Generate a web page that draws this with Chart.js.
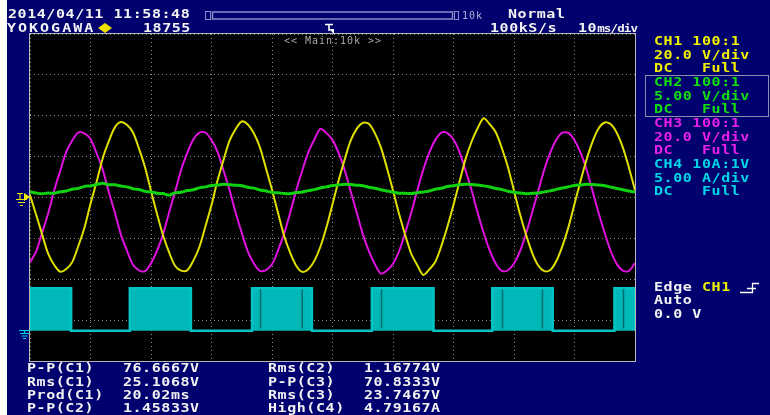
<!DOCTYPE html>
<html>
<head>
<meta charset="utf-8">
<script src="https://cdn.jsdelivr.net/npm/chart.js@4.4.1/dist/chart.umd.min.js"></script>
<style>
  html, body { margin: 0; padding: 0; background: #fff; }
  #scope { position: absolute; left: 0; top: 0; width: 770px; height: 415px; background: #00006e; overflow: hidden; }
  #margin { position: absolute; left: 0; top: 0; width: 7px; height: 415px; background: #fff; }
  #plot { position: absolute; left: 0; top: 0; }
  #icons { position: absolute; left: 0; top: 0; }
  .t { position: absolute; font: bold 12px "DejaVu Sans Mono", monospace; line-height: 12px;
       letter-spacing: .45px; transform: scaleX(1.25); transform-origin: 0 0; white-space: pre; color: #f2f2f2; }
  .s { position: absolute; font: 10px "DejaVu Sans Mono", monospace; line-height: 10px;
       letter-spacing: .98px; white-space: pre; color: #a8a8a8; }
  .y { color: #f0f000; } .g { color: #10e010; } .m { color: #e820e8; } .c { color: #00d8e8; }
  #ch2box { position: absolute; left: 645px; top: 75px; width: 122px; height: 40px; border: 1px solid #8c8cb0; }
</style>
</head>
<body>
<div id="scope">
  <div id="margin"></div>
  <canvas id="plot" width="770" height="415"></canvas>
  <svg id="icons" width="770" height="415" xmlns="http://www.w3.org/2000/svg">
    <!-- zoom bar -->
    <rect x="205.5" y="11.5" width="5" height="8" fill="none" stroke="#8a8ac8" stroke-width="1"/>
    <rect x="212.5" y="12" width="240" height="7" fill="none" stroke="#8a8ac8" stroke-width="1.5"/>
    <rect x="454.5" y="11.5" width="4" height="8" fill="none" stroke="#8a8ac8" stroke-width="1"/>
    <!-- logo diamond -->
    <polygon points="98,28 105,23 112,28 105,33" fill="#f0e000"/>
    <!-- trigger position -->
    <path d="M325,24.5 H333 M329,24 V31" stroke="#fff" stroke-width="1.6" fill="none"/>
    <polygon points="329,29 334,29 334,34" fill="#fff"/>
    <!-- CH1 ground / trigger level marker -->
    <path d="M17,193.5 H23 M20,193 V199 M16,199.5 H27 M18,202.5 H25 M20,205.5 H23" stroke="#e6e600" stroke-width="1.2" fill="none"/>
    <polygon points="24,193 30,197 24,201" fill="#f0f000"/>
    <!-- CH4 ground marker -->
    <path d="M19,330.5 H30 M24.5,330 V333.5 M20,333.5 H29 M21.5,336 H27.5 M23,338.5 H26" stroke="#00d0d8" stroke-width="1.2" fill="none"/>
    <!-- trigger edge symbol -->
    <path d="M740,292.5 H752.5 V283.5 H759 M747,288.5 H756" stroke="#fff" stroke-width="1.3" fill="none"/>
  </svg>

  <div class="t" style="left:8px;top:7.5px">2014/04/11 11:58:48</div>
  <div class="t" style="left:508px;top:7.5px">Normal</div>
  <div class="t" style="left:7px;top:21.5px;letter-spacing:1.6px">YOKOGAWA</div>
  <div class="t" style="left:143px;top:21.5px">18755</div>
  <div class="t" style="left:490px;top:21.5px">100kS/s</div>
  <div class="t" style="left:578px;top:21.5px">10<span style="font-size:10px;letter-spacing:-.7px">ms/div</span></div>
  <div class="s" style="left:462px;top:11px;color:#b0b0d8">10k</div>
  <div class="s" style="left:284px;top:36px">&lt;&lt; Main:10k &gt;&gt;</div>

  <div id="ch2box"></div>
  <div class="t" style="left:654px;top:35.1px;line-height:13.65px"><span class="y">CH1 100:1
20.0 V/div
DC   Full</span>
<span class="g">CH2 100:1
5.00 V/div
DC   Full</span>
<span class="m">CH3 100:1
20.0 V/div
DC   Full</span>
<span class="c">CH4 10A:1V
5.00 A/div
DC   Full</span></div>

  <div class="t" style="left:654px;top:280.9px;line-height:13.5px">Edge <span class="y">CH1</span>
Auto
0.0 V</div>

  <div class="t" style="left:26.7px;top:362.2px;line-height:13.33px">P-P(C1)   76.6667V
Rms(C1)   25.1068V
Prod(C1)  20.02ms
P-P(C2)   1.45833V</div>
  <div class="t" style="left:268.3px;top:362.2px;line-height:13.33px">Rms(C2)   1.16774V
P-P(C3)   70.8333V
Rms(C3)   23.7467V
High(C4)  4.79167A</div>
</div>

<script>
// Acquisition time base: one sample per millisecond across 10 divisions of 10 ms
const timeMs = [
  0,1,2,3,4,5,6,7,8,9,10,11,12,13,14,15,16,17,18,19,
  20,21,22,23,24,25,26,27,28,29,30,31,32,33,34,35,36,37,38,39,
  40,41,42,43,44,45,46,47,48,49,50,51,52,53,54,55,56,57,58,59,
  60,61,62,63,64,65,66,67,68,69,70,71,72,73,74,75,76,77,78,79,
  80,81,82,83,84,85,86,87,88,89,90,91,92,93,94,95,96,97,98,99,100
];

// CH1 voltage (V), 20 V/div
const ch1Volts = [
  1.2,-8.3,-18.0,-27.5,-33.0,-36.3,-35.0,-31.5,-23.6,-14.8,
  -3.1,7.6,19.0,27.3,34.2,36.9,35.6,31.9,24.0,14.9,
  3.2,-8.1,-18.6,-26.9,-33.5,-35.8,-35.6,-30.9,-24.2,-14.1,
  -3.7,8.3,18.4,27.9,33.5,37.2,35.7,31.4,24.6,14.3,
  3.8,-7.6,-18.7,-27.0,-33.4,-36.4,-35.1,-31.0,-24.1,-14.6,
  -3.3,8.2,18.5,27.8,33.6,36.5,36.1,31.5,24.5,14.4,
  3.4,-8.0,-18.2,-27.4,-33.0,-37.9,-35.2,-31.4,-23.7,-14.2,
  -3.6,7.8,18.9,27.4,34.0,38.8,35.8,31.8,24.1,14.8,
  3.3,-8.2,-18.3,-27.1,-33.3,-36.0,-35.5,-31.1,-23.8,-14.5,
  -3.2,8.1,18.6,27.5,33.9,36.7,35.8,31.6,24.4,14.6,
  3.6
];

// CH2 voltage (V), 5 V/div
const ch2Volts = [
  0.70,0.55,0.46,0.55,0.52,0.70,0.80,1.02,1.12,1.36,
  1.42,1.58,1.75,1.56,1.55,1.40,1.30,1.08,0.97,0.75,
  0.68,0.52,0.48,0.29,0.58,0.64,0.85,0.95,1.18,1.30,
  1.48,1.52,1.62,1.57,1.50,1.45,1.25,1.15,0.92,0.80,
  0.62,0.57,0.49,0.47,0.60,0.66,0.84,0.96,1.17,1.30,
  1.47,1.53,1.63,1.58,1.51,1.45,1.26,1.14,0.94,0.79,
  0.66,0.53,0.52,0.48,0.59,0.68,0.80,1.00,1.13,1.34,
  1.44,1.56,1.61,1.60,1.52,1.42,1.29,1.10,0.96,0.77,
  0.64,0.56,0.47,0.52,0.56,0.69,0.81,0.99,1.16,1.31,
  1.46,1.54,1.62,1.58,1.54,1.44,1.27,1.11,0.94,0.79,
  0.66
];

// CH3 voltage (V), 20 V/div
const ch3Volts = [
  -31.8,-26.5,-17.2,-7.8,3.5,13.1,22.3,28.0,31.9,31.4,
  28.6,21.7,13.8,2.9,-7.1,-17.9,-25.8,-32.8,-35.6,-36.0,
  -32.2,-26.0,-17.9,-7.2,3.0,13.7,21.8,28.5,31.7,31.8,
  28.1,22.3,13.1,3.5,-7.6,-17.3,-26.4,-32.3,-35.9,-35.5,
  -32.7,-25.9,-17.7,-7.5,3.4,13.2,22.1,28.4,33.6,31.5,
  28.2,21.8,13.5,3.1,-7.3,-17.8,-26.1,-32.6,-37.2,-35.7,
  -32.4,-26.3,-17.5,-7.6,3.3,13.5,21.9,28.2,31.8,31.5,
  28.4,22.2,13.2,3.4,-7.5,-17.4,-26.0,-32.4,-35.9,-35.6,
  -32.3,-26.2,-17.6,-7.3,3.1,13.6,22.0,28.3,31.7,31.6,
  28.0,21.9,13.6,3.0,-7.7,-17.5,-26.3,-32.6,-35.8,-35.9,
  -32.1
];

// CH4 current (A): switching bursts, each drawn as a solid band
const ch4BurstStartMs = [0, 16.5, 36.7, 56.5, 76.4, 96.6];
const ch4BurstEndMs   = [6.8, 26.6, 46.6, 66.7, 86.4, 100];
const ch4NotchMs      = [38.1, 45.0, 58.1, 78.1, 84.7, 98.1];
const ch4HighAmps = 4.79167;
const ch4LowAmps = 0;

const pairs = (vals) => timeMs.map((t, i) => ({ x: t, y: vals[i] }));

const ch4Band = [{ x: 0, y: ch4LowAmps }];
ch4BurstStartMs.forEach((s, i) => {
  const e = ch4BurstEndMs[i];
  ch4Band.push({ x: s, y: ch4LowAmps }, { x: s, y: ch4HighAmps },
               { x: e, y: ch4HighAmps }, { x: e, y: ch4LowAmps });
});
ch4Band.push({ x: 100, y: ch4LowAmps });

const ch4Notches = [];
ch4NotchMs.forEach(t => {
  ch4Notches.push({ x: t, y: ch4LowAmps + 0.25 }, { x: t, y: ch4HighAmps - 0.1 }, { x: t, y: null });
});

// black screen behind the traces and the graticule frame
const scopeScreen = {
  id: 'scopeScreen',
  beforeDraw(chart) {
    const { ctx, chartArea: a } = chart;
    ctx.save();
    ctx.fillStyle = '#000';
    ctx.fillRect(a.left, a.top, a.right - a.left, a.bottom - a.top);
    ctx.restore();
  },
  beforeDatasetsDraw(chart) {
    const { ctx, chartArea: a } = chart;
    ctx.save();
    ctx.lineWidth = 1;
    ctx.strokeStyle = '#b8b8b8';
    ctx.strokeRect(a.left - 0.5, a.top - 0.5, a.right - a.left + 1, a.bottom - a.top + 1);
    ctx.restore();
  }
};

const trace = { pointRadius: 0, fill: false, tension: 0.3, xAxisID: 'x' };

new Chart(document.getElementById('plot'), {
  type: 'line',
  data: {
    datasets: [
      { ...trace, label: 'CH2', data: pairs(ch2Volts), yAxisID: 'ch2', borderColor: '#10d010', borderWidth: 3, order: 0 },
      { ...trace, label: 'CH1', data: pairs(ch1Volts), yAxisID: 'ch1', borderColor: '#e0e000', borderWidth: 2, order: 1 },
      { ...trace, label: 'CH3', data: pairs(ch3Volts), yAxisID: 'ch3', borderColor: '#e010e0', borderWidth: 2, order: 2 },
      { ...trace, label: 'CH4 gaps', data: ch4Notches, yAxisID: 'ch4', borderColor: '#006c6c', borderWidth: 1.5, tension: 0, spanGaps: false, order: 3 },
      { ...trace, label: 'CH4', data: ch4Band, yAxisID: 'ch4', borderColor: '#00c4c4', backgroundColor: '#00b8b8',
        borderWidth: 2.5, tension: 0, fill: { value: 0 }, order: 4 }
    ]
  },
  options: {
    responsive: false,
    devicePixelRatio: 1,
    animation: false,
    events: [],
    layout: { padding: { left: 30, top: 34, right: 135, bottom: 54 } },
    plugins: { legend: { display: false }, tooltip: { enabled: false } },
    scales: {
      x: {
        type: 'linear', min: 0, max: 100,
        ticks: { display: false, stepSize: 10 },
        grid: { color: '#8c8c8c', lineWidth: 1, drawTicks: false },
        border: { display: false, dash: [1, 3] }
      },
      y: {
        type: 'linear', min: -4, max: 4,
        ticks: { display: false, stepSize: 1 },
        grid: { color: '#8c8c8c', lineWidth: 1, drawTicks: false },
        border: { display: false, dash: [1, 3] }
      },
      ch1: { type: 'linear', display: false, min: -80, max: 80 },
      ch2: { type: 'linear', display: false, min: -20, max: 20 },
      ch3: { type: 'linear', display: false, min: -80, max: 80 },
      ch4: { type: 'linear', display: false, min: -3.42, max: 33.52 }
    }
  },
  plugins: [scopeScreen]
});
</script>
</body>
</html>
